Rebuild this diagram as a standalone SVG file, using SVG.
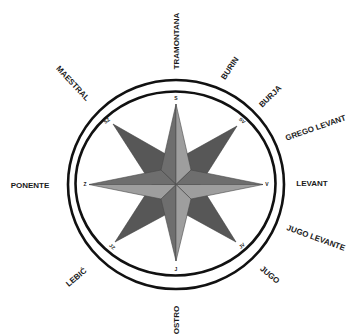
<svg xmlns="http://www.w3.org/2000/svg" width="347" height="334" viewBox="0 0 347 334">
<style>
.ring{fill:none;stroke:#111;stroke-width:2.6}
.wind{font-family:"Liberation Sans",Arial,sans-serif;font-weight:bold;font-size:8px;fill:#1a1a1a;text-anchor:middle}
.pt{font-family:"Liberation Sans",Arial,sans-serif;font-weight:bold;font-size:5px;fill:#222;text-anchor:middle}
.diag{fill:#575757;stroke:#3e3e3e;stroke-width:0.6;stroke-linejoin:round}
.dk{fill:#6e6e6e;stroke:#4a4a4a;stroke-width:0.6;stroke-linejoin:round}
.lt{fill:#9e9e9e;stroke:#4a4a4a;stroke-width:0.6;stroke-linejoin:round}
</style>
<rect width="347" height="334" fill="#fff"/>
<g id="rings">
<ellipse class="ring" cx="176" cy="184.5" rx="108" ry="104.5"/>
<ellipse class="ring" cx="175.5" cy="183.5" rx="100" ry="92"/>
</g>
<g id="diagonal-star">
<polygon class="diag" points="113,124 176,160 237,126 200,184.5 236,242 176,209 115,242 152,184.5"/>
</g>
<g id="cardinal-star">
<polygon class="dk" points="176,104 176,184.5 161,170"/>
<polygon class="lt" points="176,104 176,184.5 191,170"/>
<polygon class="dk" points="263,184.5 176,184.5 191,170"/>
<polygon class="lt" points="263,184.5 176,184.5 191,199"/>
<polygon class="dk" points="176,261 176,184.5 161,199"/>
<polygon class="lt" points="176,261 176,184.5 191,199"/>
<polygon class="dk" points="89,184.5 176,184.5 161,170"/>
<polygon class="lt" points="89,184.5 176,184.5 161,199"/>
</g>
<g id="point-labels">
<text class="pt" x="176" y="100">S</text>
<text class="pt" x="176" y="271">J</text>
<text class="pt" x="85" y="186">Z</text>
<text class="pt" x="267" y="186">V</text>
<text class="pt" transform="translate(108,122) rotate(-40)">SZ</text>
<text class="pt" transform="translate(241,122) rotate(40)">SV</text>
<text class="pt" transform="translate(111,248) rotate(40)">JZ</text>
<text class="pt" transform="translate(243,247) rotate(-40)">JV</text>
</g>
<g id="wind-labels">
<text class="wind" transform="translate(176,41) rotate(-90)" dy="3">TRAMONTANA</text>
<text class="wind" transform="translate(176,320) rotate(-90)" dy="3">OSTRO</text>
<text class="wind" transform="translate(73,83) rotate(47)" dy="3">MAESTRAL</text>
<text class="wind" transform="translate(229.5,68) rotate(-56)" dy="3">BURIN</text>
<text class="wind" transform="translate(270,96) rotate(-44)" dy="3">BURJA</text>
<text class="wind" transform="translate(315.5,127.5) rotate(-19)" dy="3">GREGO LEVANT</text>
<text class="wind" x="312" y="186">LEVANT</text>
<text class="wind" x="30" y="188">PONENTE</text>
<text class="wind" transform="translate(316,237.5) rotate(20)" dy="3">JUGO LEVANTE</text>
<text class="wind" transform="translate(270,274.5) rotate(40)" dy="3">JUGO</text>
<text class="wind" transform="translate(76,277) rotate(-40)" dy="3">LEBIĆ</text>
</g>
</svg>
